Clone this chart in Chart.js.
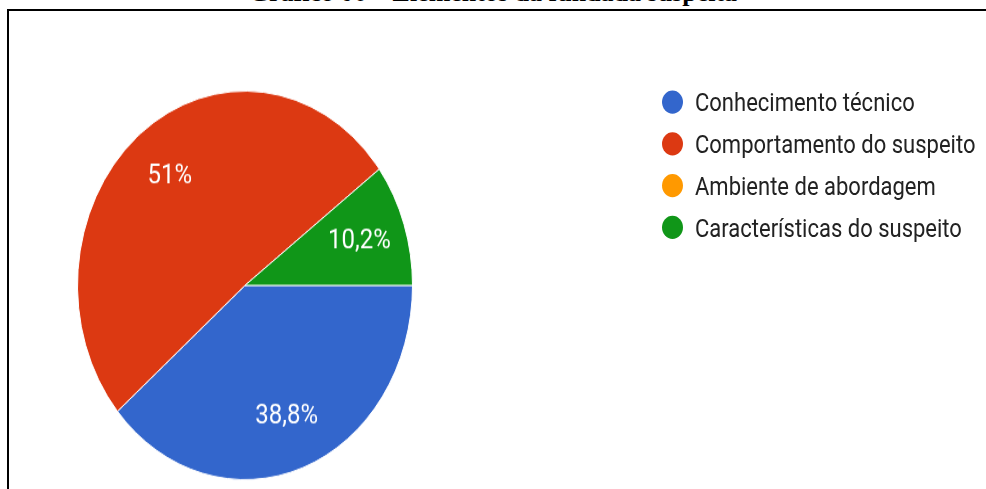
<!DOCTYPE html>
<html lang="pt-BR">
<head>
<meta charset="utf-8">
<title>Gráfico 06 – Elementos da fundada suspeita</title>
<script src="https://cdn.jsdelivr.net/npm/chart.js@4"></script>
<style>
  html, body {
    margin: 0;
    padding: 0;
    background: #fff;
    width: 986px;
    height: 489px;
    overflow: hidden;
  }
  #title {
    position: absolute;
    left: 0;
    width: 986px;
    top: -20px;
    text-align: center;
    font: bold 26px "Liberation Serif", "Times New Roman", serif;
    line-height: 26px;
    color: #000;
  }
  #frame {
    position: absolute;
    left: 7px;
    top: 9px;
    width: 1000px;
    height: 500px;
    border: 2px solid #000;
  }
  /* the source image was stretched vertically, so stretch the whole figure */
  #figure {
    position: absolute;
    left: 0;
    top: 0;
    width: 986px;
    height: 422px;
    transform: scaleY(1.16);
    transform-origin: 0 0;
  }
  #pieChart {
    position: absolute;
    left: 0;
    top: 0;
  }
  #legend {
    position: absolute;
    left: 662px;
    top: 70px;
    margin: 0;
    padding: 0;
    list-style: none;
    font: 22px Roboto, Arial, sans-serif;
    color: #222;
  }
  #legend li {
    height: 36px;
    display: flex;
    align-items: center;
  }
  #legend .dot {
    width: 21px;
    height: 20px;
    border-radius: 50%;
    margin-right: 12px;
    flex: none;
  }
</style>
</head>
<body>
<div id="title">Gráfico 06 – Elementos da fundada suspeita</div>
<div id="frame"></div>
<div id="figure">
  <canvas id="pieChart" width="500" height="420"></canvas>
  <ul id="legend"></ul>
</div>
<script>
// Answers (49 responses)
const categories = [
  "Conhecimento técnico",
  "Comportamento do suspeito",
  "Ambiente de abordagem",
  "Características do suspeito"
];
const counts = [19, 25, 0, 5];
const sliceColors = ["#3366cc", "#dc3912", "#ff9900", "#109618"];

document.addEventListener("DOMContentLoaded", () => {
  const total = counts.reduce((a, b) => a + b, 0);

  // percentage text like Google Forms: one decimal, comma, no trailing ",0"
  function formatPercent(value) {
    const pct = Math.round((value / total) * 1000) / 10;
    return String(pct).replace(".", ",") + "%";
  }

  // draws the percentage inside each slice
  const sliceLabels = {
    id: "sliceLabels",
    afterDatasetsDraw(chart) {
      const ctx = chart.ctx;
      const meta = chart.getDatasetMeta(0);
      ctx.save();
      ctx.fillStyle = "#fff";
      ctx.font = "24px Roboto, Arial, sans-serif";
      ctx.textAlign = "center";
      ctx.textBaseline = "middle";
      meta.data.forEach((arc, i) => {
        const value = counts[i];
        if (!value) return;
        const { x, y, startAngle, endAngle, outerRadius } = arc.getProps(
          ["x", "y", "startAngle", "endAngle", "outerRadius"], true);
        const mid = (startAngle + endAngle) / 2;
        const r = outerRadius * 0.72;
        ctx.fillText(formatPercent(value), x + Math.cos(mid) * r, y + Math.sin(mid) * r);
      });
      ctx.restore();
    }
  };

  const canvas = document.getElementById("pieChart");
  new Chart(canvas.getContext("2d"), {
    type: "pie",
    data: {
      labels: categories,
      datasets: [{
        data: counts,
        backgroundColor: sliceColors,
        borderColor: "#fff",
        borderWidth: 1
      }]
    },
    options: {
      responsive: false,
      animation: false,
      rotation: 90,
      layout: {
        padding: { left: 77, top: 78, right: 87, bottom: 6 }
      },
      plugins: {
        legend: { display: false },
        tooltip: { enabled: false }
      },
      events: []
    },
    plugins: [sliceLabels]
  });

  // legend on the right
  const legend = document.getElementById("legend");
  categories.forEach((name, i) => {
    const li = document.createElement("li");
    const dot = document.createElement("span");
    dot.className = "dot";
    dot.style.background = sliceColors[i];
    li.appendChild(dot);
    li.appendChild(document.createTextNode(name));
    legend.appendChild(li);
  });
});
</script>
</body>
</html>
